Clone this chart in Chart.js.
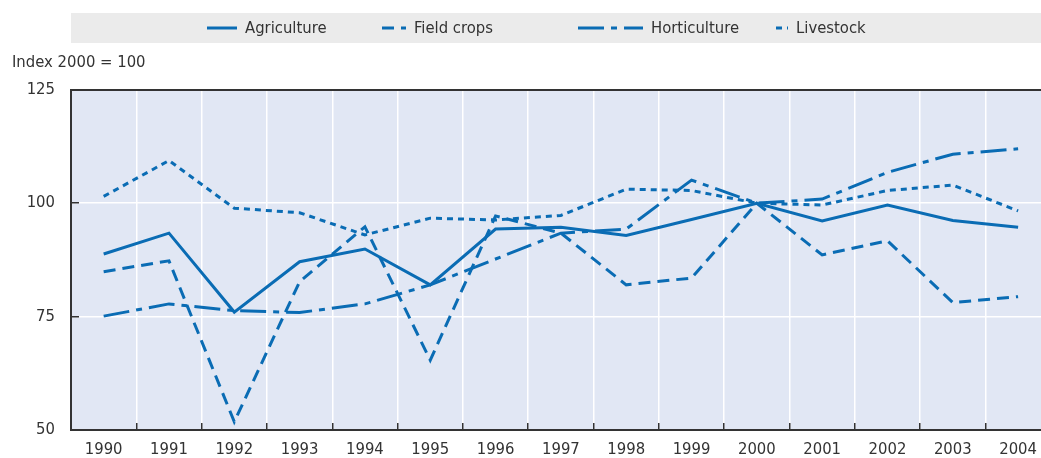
<!DOCTYPE html>
<html>
<head>
<meta charset="utf-8">
<script src="https://cdn.jsdelivr.net/npm/chart.js@4/dist/chart.umd.min.js"></script>
<style>
    html, body { margin: 0; padding: 0; background: #fff; overflow: hidden; }
    #wrap { width: 1054px; height: 458px; position: relative; }
</style>
</head>
<body>
<div id="wrap"><canvas id="chart"></canvas></div>
<script>
// --- DATA ---
const years = ['1990', '1991', '1992', '1993', '1994', '1995', '1996', '1997', '1998', '1999', '2000', '2001', '2002', '2003', '2004'];
const agriculture = [88.8, 93.4, 76.0, 87.1, 89.9, 82.0, 94.3, 94.7, 92.9, 96.4, 100, 96.1, 99.6, 96.2, 94.7];
const fieldCrops = [84.9, 87.3, 51.8, 82.7, 94.8, 65.4, 97.2, 93.4, 82.0, 83.5, 100, 88.6, 91.7, 78.1, 79.4];
const horticulture = [75.1, 77.8, 76.3, 75.9, 77.8, 82.0, 87.7, 93.4, 94.3, 105.1, 100, 100.9, 106.8, 110.8, 112.0];
const livestock = [101.5, 109.4, 98.9, 97.9, 93.0, 96.7, 96.3, 97.3, 103.1, 102.8, 100, 99.6, 102.8, 104.0, 98.3];
const yTicks = [50, 75, 100, 125];

const blue = '#0a6cb4';
const textColor = '#333333';
const fontFamily = "'Liberation Sans Narrow', 'Arial Narrow', 'DejaVu Sans Condensed', sans-serif";
const fontSize = 16.5;

Chart.defaults.font.family = fontFamily;
Chart.defaults.color = textColor;

const makeSeries = (label, data, dash) => ({
    label: label,
    data: data,
    borderColor: blue,
    backgroundColor: blue,
    borderWidth: 3,
    borderDash: dash,
    pointRadius: 0,
    tension: 0,
    fill: false
});

// light blue plot area
const plotBackground = {
    id: 'plotBackground',
    beforeDraw(chart) {
        const { ctx, chartArea } = chart;
        ctx.save();
        ctx.fillStyle = '#e1e7f4';
        ctx.fillRect(chartArea.left, chartArea.top, chartArea.right - chartArea.left, chartArea.bottom - chartArea.top);
        ctx.restore();
    }
};

// grey legend strip on top
const legendStartX = [207, 382, 578, 776];
const legendStrip = {
    id: 'legendStrip',
    afterDraw(chart) {
        const { ctx, chartArea, width } = chart;
        const midY = 28;
        ctx.save();
        ctx.fillStyle = '#ebebeb';
        ctx.fillRect(chartArea.left, 13, width - chartArea.left, 30);
        chart.data.datasets.forEach((ds, i) => {
            const dash = ds.borderDash || [];
            const len = dash.length ? dash.reduce((a, b) => a + b, 0) + dash[0] - dash[dash.length - 1] : 30;
            const x0 = legendStartX[i];
            ctx.beginPath();
            ctx.setLineDash(dash);
            ctx.lineWidth = ds.borderWidth;
            ctx.strokeStyle = ds.borderColor;
            ctx.moveTo(x0, midY);
            ctx.lineTo(x0 + len, midY);
            ctx.stroke();
            ctx.setLineDash([]);
            ctx.fillStyle = textColor;
            ctx.font = fontSize + 'px ' + fontFamily;
            ctx.textBaseline = 'middle';
            ctx.textAlign = 'left';
            ctx.fillText(ds.label, x0 + len + 8, midY + 1);
        });
        ctx.restore();
    }
};

new Chart(document.getElementById('chart'), {
    type: 'line',
    data: {
        labels: years,
        datasets: [
            makeSeries('Agriculture', agriculture, []),
            makeSeries('Field crops', fieldCrops, [12, 7]),
            makeSeries('Horticulture', horticulture, [26, 7, 6, 7]),
            makeSeries('Livestock', livestock, [6, 5])
        ]
    },
    options: {
        responsive: true,
        maintainAspectRatio: false,
        animation: false,
        layout: { padding: { left: 12, top: 0, right: 0, bottom: 0 } },
        plugins: {
            legend: { display: false },
            tooltip: { enabled: false },
            title: {
                display: true,
                text: 'Index 2000 = 100',
                align: 'start',
                color: textColor,
                font: { size: fontSize, weight: 'normal' },
                padding: { top: 53, bottom: 17 }
            }
        },
        scales: {
            x: {
                offset: true,
                grid: {
                    offset: true,
                    color: '#ffffff',
                    lineWidth: 1.5,
                    tickLength: -7,
                    tickColor: textColor,
                    tickWidth: 1.5
                },
                border: { color: textColor, width: 2 },
                ticks: { padding: 17, color: textColor, font: { size: fontSize }, maxRotation: 0 },
                afterFit: (scale) => { scale.height = 28; }
            },
            y: {
                min: 50,
                max: 125,
                afterBuildTicks: (scale) => { scale.ticks = yTicks.map(v => ({ value: v })); },
                grid: {
                    color: (c) => (c.tick && (c.tick.value === 125 || c.tick.value === 50)) ? textColor : '#ffffff',
                    lineWidth: (c) => (c.tick && c.tick.value === 125) ? 2 : 1.5,
                    tickLength: -8,
                    tickColor: textColor,
                    tickWidth: 1.5
                },
                border: { color: textColor, width: 2 },
                ticks: { padding: 24, color: textColor, font: { size: fontSize } },
                afterFit: (scale) => {
                    scale.width = 59;
                    scale.paddingTop = 10;
                    scale.paddingBottom = 10;
                }
            }
        }
    },
    plugins: [plotBackground, legendStrip]
});
</script>
</body>
</html>
